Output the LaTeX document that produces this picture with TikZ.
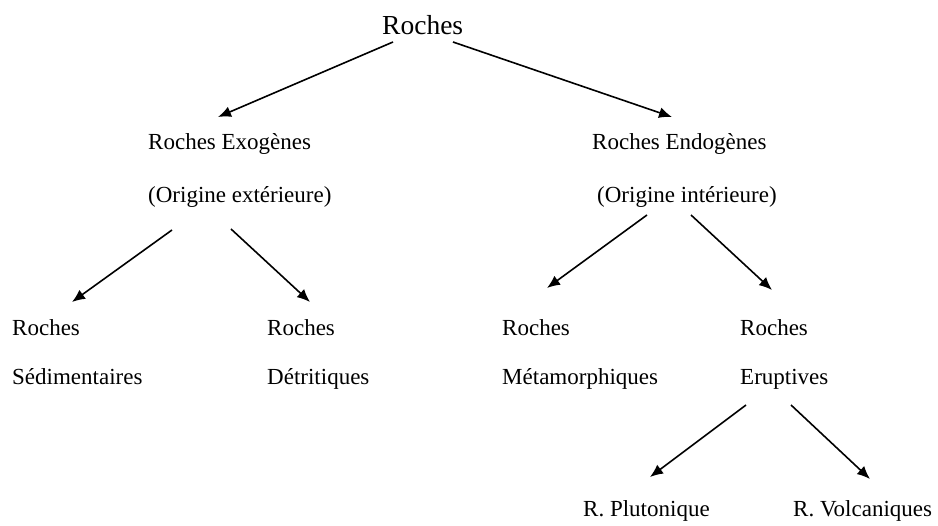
\documentclass[tikz,border=0pt]{standalone}
\usepackage{fontspec}
\setmainfont{Liberation Serif}
\usetikzlibrary{arrows.meta}
\begin{document}
\begin{tikzpicture}[x=1pt,y=-1pt,
  lbl/.style={anchor=base west,inner sep=0pt,font=\fontsize{23}{26}\selectfont},
  top/.style={anchor=base west,inner sep=0pt,font=\fontsize{27.5}{30}\selectfont},
  arr/.style={line width=1.6pt,-{Latex[length=13pt,width=11pt]}}]
\useasboundingbox (0,0) rectangle (938,526);
\node[top] (root) at (382,35) {Roches};
\node[lbl] (exo) at (148,150) {Roches Exogènes};
\node[lbl] (exo2) at (148,203) {(Origine extérieure)};
\node[lbl] (endo) at (592,150) {Roches Endogènes};
\node[lbl] (endo2) at (597,203) {(Origine intérieure)};
\node[lbl] (sed) at (12,336) {Roches};
\node[lbl] (sed2) at (12,385) {Sédimentaires};
\node[lbl] (det) at (267,336) {Roches};
\node[lbl] (det2) at (267,385) {Détritiques};
\node[lbl] (met) at (502,336) {Roches};
\node[lbl] (met2) at (502,385) {Métamorphiques};
\node[lbl] (eru) at (740,336) {Roches};
\node[lbl] (eru2) at (740,385) {Eruptives};
\node[lbl] (plu) at (583,517) {R. Plutonique};
\node[lbl] (vol) at (793,517) {R. Volcaniques};
\coordinate (a1s) at (393,42);  \coordinate (a1e) at (218,117);
\coordinate (a2s) at (453,42);  \coordinate (a2e) at (672,117);
\coordinate (a3s) at (172,230); \coordinate (a3e) at (72,302);
\coordinate (a4s) at (231,229); \coordinate (a4e) at (310,302);
\coordinate (a5s) at (647,215); \coordinate (a5e) at (547,288);
\coordinate (a6s) at (691,215); \coordinate (a6e) at (772,290);
\coordinate (a7s) at (746,405); \coordinate (a7e) at (650,477);
\coordinate (a8s) at (791,405); \coordinate (a8e) at (870,479);
\draw[arr] (a1s) -- (a1e);
\draw[arr] (a2s) -- (a2e);
\draw[arr] (a3s) -- (a3e);
\draw[arr] (a4s) -- (a4e);
\draw[arr] (a5s) -- (a5e);
\draw[arr] (a6s) -- (a6e);
\draw[arr] (a7s) -- (a7e);
\draw[arr] (a8s) -- (a8e);
\end{tikzpicture}
\end{document}
